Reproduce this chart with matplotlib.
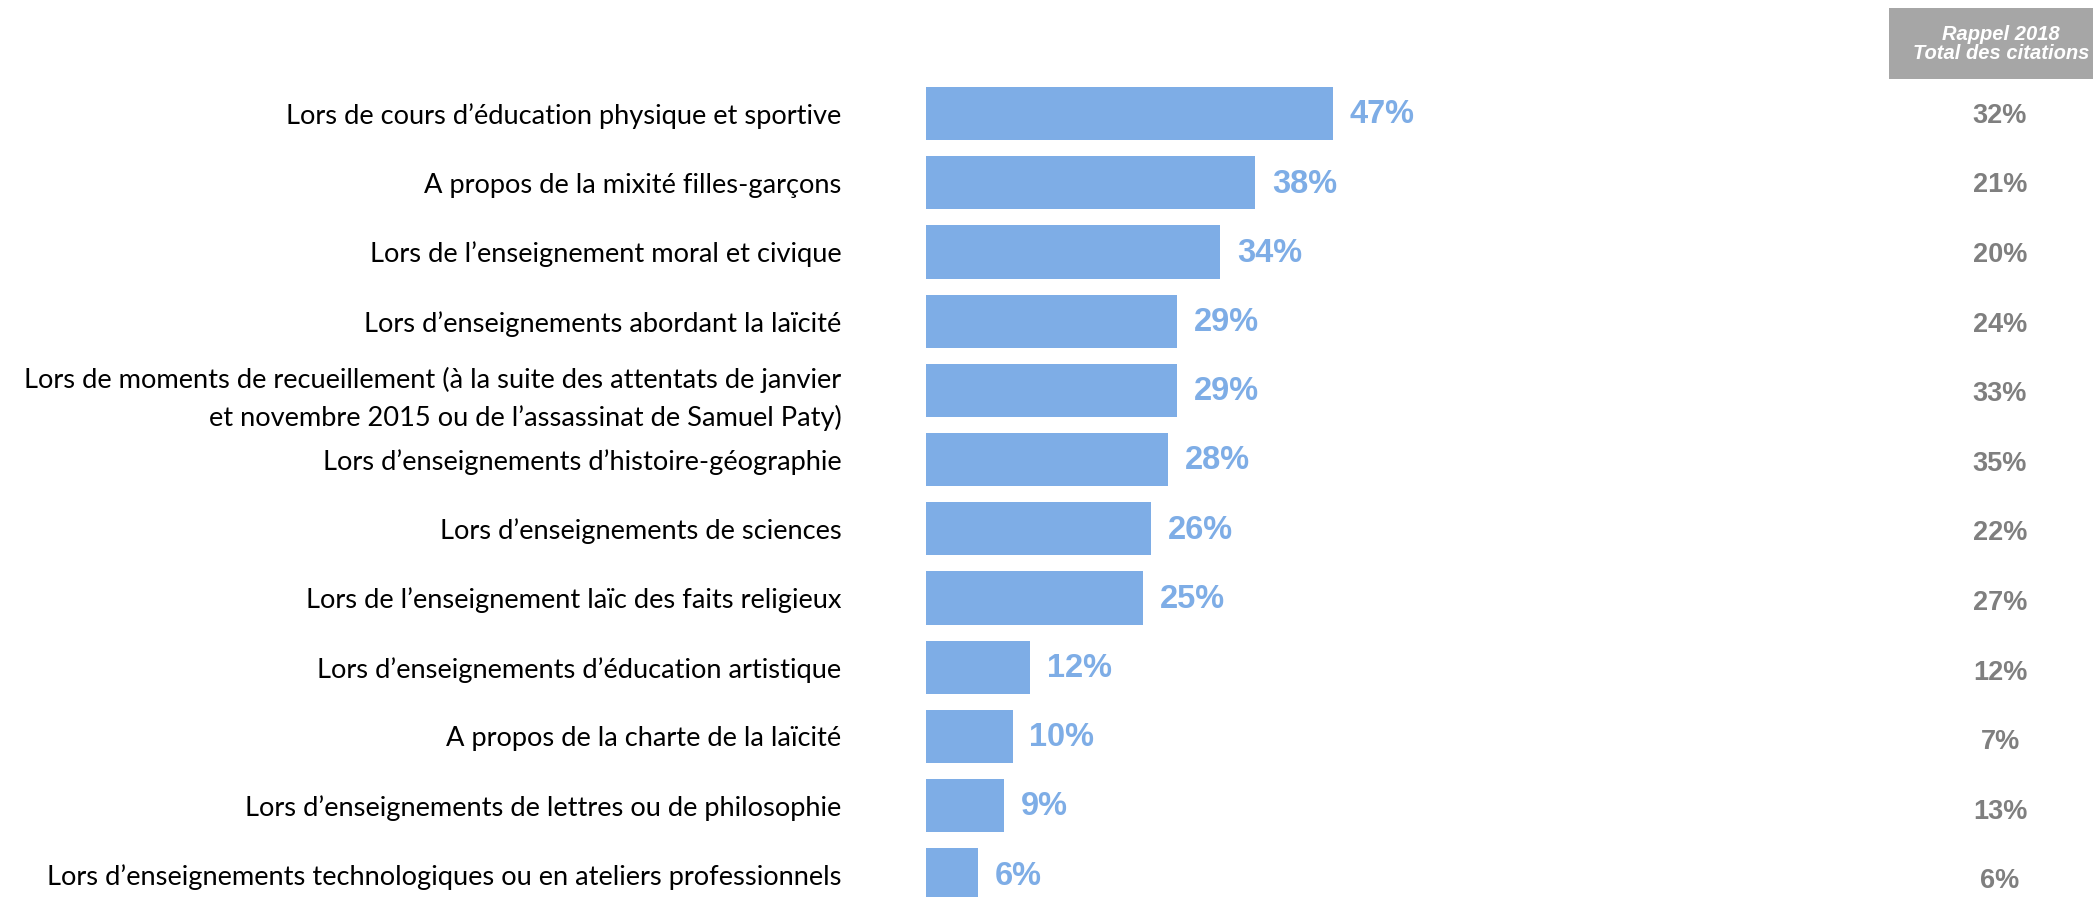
import numpy as np
import matplotlib.pyplot as plt
from matplotlib.patches import Rectangle
from matplotlib.transforms import blended_transform_factory

################################################################################
# data #

labels = [
    "Lors de cours d\u2019éducation physique et sportive",
    "A propos de la mixité filles-garçons",
    "Lors de l\u2019enseignement moral et civique",
    "Lors d\u2019enseignements abordant la laïcité",
    "Lors de moments de recueillement (à la suite des attentats de janvier\n"
    "et novembre 2015 ou de l\u2019assassinat de Samuel Paty)",
    "Lors d\u2019enseignements d\u2019histoire-géographie",
    "Lors d\u2019enseignements de sciences",
    "Lors de l\u2019enseignement laïc des faits religieux",
    "Lors d\u2019enseignements d\u2019éducation artistique",
    "A propos de la charte de la laïcité",
    "Lors d\u2019enseignements de lettres ou de philosophie",
    "Lors d\u2019enseignements technologiques ou en ateliers professionnels",
]
values = [47, 38, 34, 29, 29, 28, 26, 25, 12, 10, 9, 6]
rappel_2018 = [32, 21, 20, 24, 33, 35, 22, 27, 12, 7, 13, 6]
header = "Rappel 2018\nTotal des citations"

################################################################################
# style #

W, H = 2093, 897
BAR_COLOR = '#7EADE6'
GREY_TEXT = '#7F7F7F'
BOX_COLOR = '#A6A6A6'
LABEL_FONT = ['Lato', 'DejaVu Sans']
NUM_FONT = ['Liberation Sans', 'DejaVu Sans']

fig = plt.figure(figsize=(W / 100, H / 100), dpi=100)
fig.patch.set_facecolor('white')

# axes : x 0..100 % over 866 px starting at x=926 px
ax = fig.add_axes([926 / W, 0, 866 / W, 1])
pitch = 69.2
first = 113.6
y = np.arange(len(values))
ax.barh(y, values, height=53.3 / pitch, color=BAR_COLOR, edgecolor='none')
ax.set_xlim(0, 100)
ax.set_ylim((H - first) / pitch, -first / pitch)

ax.set_yticks(y)
ax.set_yticklabels(labels, family=LABEL_FONT, fontsize=19.6, color='#000000',
                   multialignment='right', linespacing=1.55)
ax.tick_params(axis='y', length=0, pad=61)
ax.set_xticks([])
for s in ax.spines.values():
  s.set_visible(False)

# value labels #
for i, v in enumerate(values):
  ax.text(v + 1.95, i + 0.02, f"{v}%", va='center', ha='left', fontsize=23.5,
          fontweight='bold', color=BAR_COLOR, family=NUM_FONT)

# right column #
tr = blended_transform_factory(fig.transFigure, ax.transData)
for i, v in enumerate(rappel_2018):
  ax.text(2000 / W, i + 0.03 + 0.006 * i, f"{v}%", va='center', ha='center',
          fontsize=19.5, fontweight='bold', color=GREY_TEXT, family=NUM_FONT,
          transform=tr, clip_on=False)

# header box #
fig.add_artist(Rectangle((1889 / W, 1 - 79 / H), (W - 1889) / W, 71 / H,
                         transform=fig.transFigure, facecolor=BOX_COLOR,
                         edgecolor='none'))
fig.text(2001 / W, 1 - 44 / H, header, ha='center', va='center', fontsize=14.5,
         fontweight='bold', fontstyle='italic', color='white', family=NUM_FONT,
         linespacing=1.05)

fig.savefig('out.png', dpi=100)
